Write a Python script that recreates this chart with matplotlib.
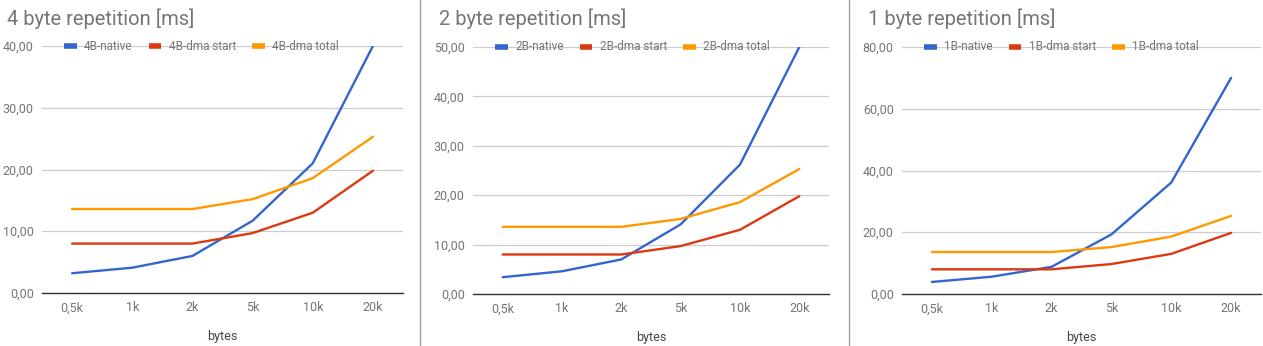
import matplotlib.pyplot as plt
from matplotlib.lines import Line2D
from matplotlib.ticker import FuncFormatter

plt.rcParams['font.family'] = ['Roboto', 'DejaVu Sans']

# data
sizes = ["0,5k", "1k", "2k", "5k", "10k", "20k"]
native_4b = [3.2, 4.1, 6.0, 11.7, 21.0, 40.0]
native_2b = [3.4, 4.6, 7.0, 14.1, 26.2, 50.0]
native_1b = [3.9, 5.6, 8.8, 19.3, 36.1, 70.0]
dma_start = [8.0, 8.0, 8.0, 9.7, 13.0, 19.8]
dma_total = [13.6, 13.6, 13.6, 15.2, 18.6, 25.3]

panels = [
    ("4 byte repetition [ms]", "4B", native_4b, 40, 10),
    ("2 byte repetition [ms]", "2B", native_2b, 50, 10),
    ("1 byte repetition [ms]", "1B", native_1b, 80, 20),
]

W, H = 1263, 346
# axes boxes in pixels: left, top, right, bottom
boxes = [(42, 46, 403, 293), (473, 47, 829, 294), (902, 47, 1261, 294)]
title_x = [7, 439, 868]

colors = ["#3366cc", "#dc3912", "#ff9900"]
txt_gray = "#757575"

fig = plt.figure(figsize=(W / 100, H / 100), dpi=100)

for (title, tag, native, ymax, step), (l, t, r, b), tx in zip(panels, boxes, title_x):
    ax = fig.add_axes([l / W, (H - b) / H, (r - l) / W, (b - t) / H])
    x = range(len(sizes))
    series = [(native, f"{tag}-native"), (dma_start, f"{tag}-dma start"),
              (dma_total, f"{tag}-dma total")]
    for (vals, name), c in zip(series, colors):
        ax.plot(x, vals, color=c, lw=1.7, label=name, solid_capstyle="round")

    ax.set_xlim(-0.5, len(sizes) - 0.5)
    ax.set_ylim(0, ymax)
    ax.set_yticks(range(0, ymax + 1, step))
    ax.yaxis.set_major_formatter(FuncFormatter(lambda v, p: f"{v:.2f}".replace(".", ",")))
    ax.set_xticks(list(x))
    ax.set_xticklabels(sizes)
    ax.grid(axis="y", color="#cccccc", lw=0.9)
    ax.set_axisbelow(True)
    for s in ["top", "right", "left"]:
        ax.spines[s].set_visible(False)
    ax.spines["bottom"].set_color("#333333")
    ax.spines["bottom"].set_linewidth(1.0)
    ax.tick_params(axis="both", length=0, labelsize=9, labelcolor=txt_gray)
    ax.tick_params(axis="y", pad=6)
    ax.tick_params(axis="x", pad=6)
    ax.set_xlabel("bytes", fontsize=9, color="#444444", labelpad=11)

    leg = ax.legend(loc="center left", bbox_to_anchor=(22 / (r - l), 1.0), ncol=3,
                    frameon=False, fontsize=8.5, handlelength=1.1, handleheight=0.5,
                    handletextpad=0.6, columnspacing=1.35, borderpad=0, borderaxespad=0)
    for h in leg.legend_handles:
        h.set_linewidth(4)
        h.set_solid_capstyle("butt")
    for tt in leg.get_texts():
        tt.set_color(txt_gray)

    fig.text(tx / W, (H - 25) / H, title, fontsize=14.5, color=txt_gray, va="baseline", ha="left")

# vertical separators between the charts
for sx in [419.5, 848.5]:
    fig.add_artist(Line2D([sx / W, sx / W], [0, 1], color="#9e9e9e", lw=1.0))

fig.savefig("out.png", dpi=100, facecolor="white")
